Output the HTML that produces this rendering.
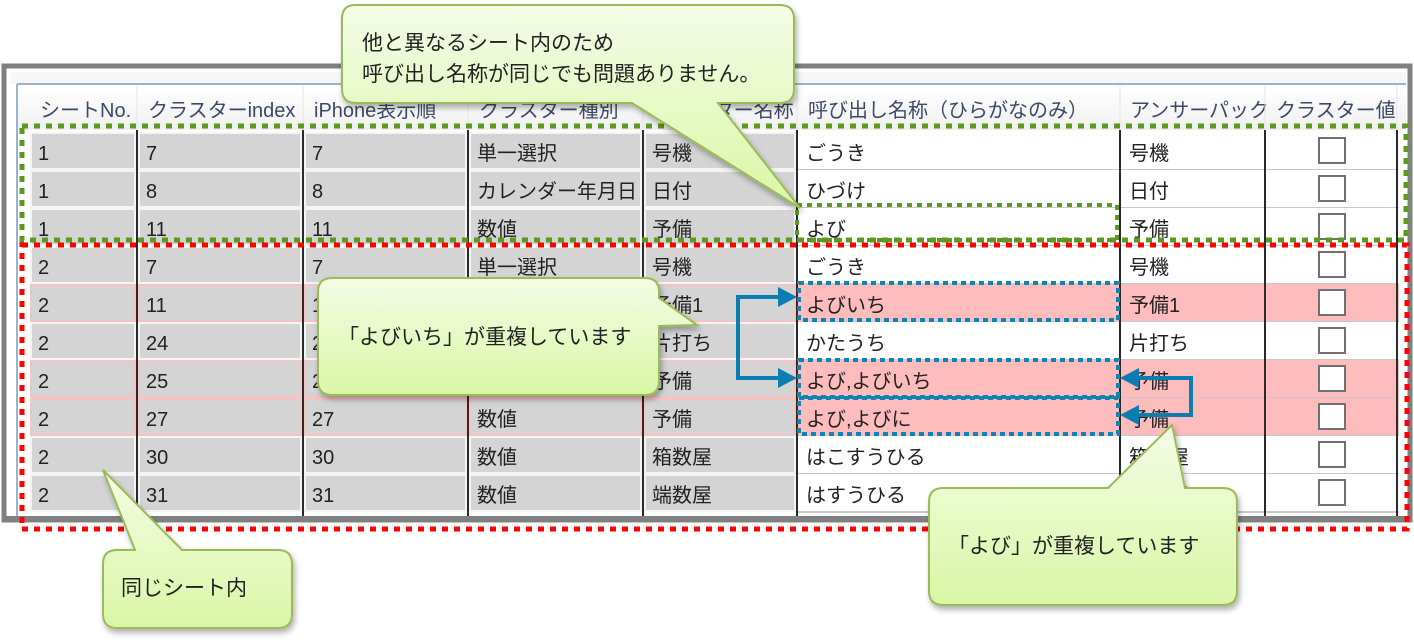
<!DOCTYPE html>
<html><head><meta charset="utf-8"><style>
body{margin:0;width:1414px;height:640px;background:#fff;overflow:hidden}
svg{display:block}
text{font-family:"Liberation Sans","Noto Sans CJK JP",sans-serif}
</style></head><body>
<svg width="1414" height="640" viewBox="0 0 1414 640" xmlns="http://www.w3.org/2000/svg">
<defs>
<linearGradient id="cg" x1="0" y1="0" x2="0" y2="1"><stop offset="0" stop-color="#f4fce6"/><stop offset="1" stop-color="#d9f7a6"/></linearGradient>
<linearGradient id="hg" x1="0" y1="0" x2="0" y2="1"><stop offset="0" stop-color="#ffffff"/><stop offset="1" stop-color="#f0f0f0"/></linearGradient>
<filter id="sh" x="-10%" y="-10%" width="130%" height="140%"><feDropShadow dx="2" dy="4" stdDeviation="3" flood-color="#000" flood-opacity="0.3"/></filter>
<g id="rw">
<rect x="30" y="0" width="767" height="38" fill="#f4f4f4"/>
<rect x="32" y="2" width="102" height="34" fill="#d4d4d4"/>
<rect x="140" y="2" width="160" height="34" fill="#d4d4d4"/>
<rect x="306" y="2" width="159" height="34" fill="#d4d4d4"/>
<rect x="471" y="2" width="169" height="34" fill="#d4d4d4"/>
<rect x="646" y="2" width="148" height="34" fill="#d4d4d4"/>
<rect x="797" y="0" width="602" height="38" fill="#fff"/>
<line x1="797" y1="38" x2="1399" y2="38" stroke="#c8c8c8" stroke-width="2"/>
<rect x="1319" y="6" width="26" height="25" fill="#fff" stroke="#707070" stroke-width="2"/>
</g>
<g id="rp">
<rect x="30" y="0" width="767" height="38" fill="#f4c4c4"/>
<rect x="32" y="2" width="102" height="34" fill="#d4d4d4"/>
<rect x="140" y="2" width="160" height="34" fill="#d4d4d4"/>
<rect x="306" y="2" width="159" height="34" fill="#d4d4d4"/>
<rect x="471" y="2" width="169" height="34" fill="#d4d4d4"/>
<rect x="646" y="2" width="148" height="34" fill="#d4d4d4"/>
<rect x="797" y="0" width="602" height="38" fill="#ffbcbc"/>
<line x1="797" y1="38" x2="1399" y2="38" stroke="#c8c8c8" stroke-width="2"/>
<rect x="1319" y="6" width="26" height="25" fill="#fff" stroke="#707070" stroke-width="2"/>
</g>
</defs>
<!-- frame -->
<rect x="4" y="66" width="1406" height="454" fill="#fff" stroke="#808080" stroke-width="5"/>
<rect x="10" y="72" width="1396" height="12" fill="#f7f7f7"/>
<line x1="17" y1="84" x2="1406" y2="84" stroke="#9db3cc" stroke-width="2"/>
<line x1="17" y1="84" x2="17" y2="517" stroke="#9db3cc" stroke-width="2"/>
<rect x="18" y="86" width="1388" height="44" fill="url(#hg)"/>
<g fill="#3c4a66" font-size="20">
<text x="40" y="117">シートNo.</text>
<text x="148" y="117">クラスターindex</text>
<text x="314" y="117">iPhone表示順</text>
<text x="479" y="117">クラスター種別</text>
<text x="654" y="117">クラスター名称</text>
<text x="808" y="117">呼び出し名称（ひらがなのみ）</text>
<text x="1130" y="117">アンサーパック</text>
<text x="1276" y="117">クラスター値</text>
</g>
<g stroke="#e4e4e4" stroke-width="1">
<line x1="137" y1="86" x2="137" y2="130"/><line x1="303" y1="86" x2="303" y2="130"/><line x1="468" y1="86" x2="468" y2="130"/><line x1="643" y1="86" x2="643" y2="130"/><line x1="797" y1="86" x2="797" y2="130"/><line x1="1120" y1="86" x2="1120" y2="130"/><line x1="1265" y1="86" x2="1265" y2="130"/><line x1="1397" y1="86" x2="1397" y2="130"/>
</g>
<use href="#rw" y="132"/>
<use href="#rw" y="170"/>
<use href="#rw" y="208"/>
<use href="#rw" y="246"/>
<use href="#rp" y="284"/>
<use href="#rw" y="322"/>
<use href="#rp" y="360"/>
<use href="#rp" y="398"/>
<use href="#rw" y="436"/>
<use href="#rw" y="474"/>
<g stroke="#2a2a2a" stroke-width="2">
<line x1="137" y1="130" x2="137" y2="518"/><line x1="303" y1="130" x2="303" y2="518"/><line x1="468" y1="130" x2="468" y2="518"/><line x1="643" y1="130" x2="643" y2="518"/><line x1="797" y1="130" x2="797" y2="518"/><line x1="1120" y1="130" x2="1120" y2="518"/><line x1="1265" y1="130" x2="1265" y2="518"/><line x1="1397" y1="130" x2="1397" y2="518"/>
</g>
<g font-size="20" fill="#222">
<text y="160"><tspan x="38">1</tspan><tspan x="146">7</tspan><tspan x="312">7</tspan><tspan x="477">単一選択</tspan><tspan x="652">号機</tspan><tspan x="806">ごうき</tspan><tspan x="1129">号機</tspan></text>
<text y="198"><tspan x="38">1</tspan><tspan x="146">8</tspan><tspan x="312">8</tspan><tspan x="477">カレンダー年月日</tspan><tspan x="652">日付</tspan><tspan x="806">ひづけ</tspan><tspan x="1129">日付</tspan></text>
<text y="236"><tspan x="38">1</tspan><tspan x="146">11</tspan><tspan x="312">11</tspan><tspan x="477">数値</tspan><tspan x="652">予備</tspan><tspan x="806">よび</tspan><tspan x="1129">予備</tspan></text>
<text y="274"><tspan x="38">2</tspan><tspan x="146">7</tspan><tspan x="312">7</tspan><tspan x="477">単一選択</tspan><tspan x="652">号機</tspan><tspan x="806">ごうき</tspan><tspan x="1129">号機</tspan></text>
<text y="312"><tspan x="38">2</tspan><tspan x="146">11</tspan><tspan x="312">11</tspan><tspan x="477">数値</tspan><tspan x="652">予備1</tspan><tspan x="806">よびいち</tspan><tspan x="1129">予備1</tspan></text>
<text y="350"><tspan x="38">2</tspan><tspan x="146">24</tspan><tspan x="312">24</tspan><tspan x="477">数値</tspan><tspan x="652">片打ち</tspan><tspan x="806">かたうち</tspan><tspan x="1129">片打ち</tspan></text>
<text y="388"><tspan x="38">2</tspan><tspan x="146">25</tspan><tspan x="312">25</tspan><tspan x="477">数値</tspan><tspan x="652">予備</tspan><tspan x="806">よび,よびいち</tspan><tspan x="1129">予備</tspan></text>
<text y="426"><tspan x="38">2</tspan><tspan x="146">27</tspan><tspan x="312">27</tspan><tspan x="477">数値</tspan><tspan x="652">予備</tspan><tspan x="806">よび,よびに</tspan><tspan x="1129">予備</tspan></text>
<text y="464"><tspan x="38">2</tspan><tspan x="146">30</tspan><tspan x="312">30</tspan><tspan x="477">数値</tspan><tspan x="652">箱数屋</tspan><tspan x="806">はこすうひる</tspan><tspan x="1129">箱数屋</tspan></text>
<text y="502"><tspan x="38">2</tspan><tspan x="146">31</tspan><tspan x="312">31</tspan><tspan x="477">数値</tspan><tspan x="652">端数屋</tspan><tspan x="806">はすうひる</tspan><tspan x="1129">端数屋</tspan></text>
</g>
<rect x="6" y="516" width="1402" height="5" fill="#808080"/>
<!-- dotted regions -->
<rect x="22" y="126" width="1384" height="114" fill="none" stroke="#5a9a1e" stroke-width="5" stroke-dasharray="6,6"/>
<rect x="22" y="245" width="1385" height="284" fill="none" stroke="#ff0000" stroke-width="5" stroke-dasharray="6,6"/>
<rect x="797" y="205" width="320" height="35" fill="none" stroke="#5a9a1e" stroke-width="4" stroke-dasharray="5,5"/>
<g fill="none" stroke="#0a85b5" stroke-width="4" stroke-dasharray="5,4">
<rect x="799" y="283" width="319" height="37"/>
<rect x="799" y="360" width="319" height="37"/>
<rect x="799" y="398" width="319" height="36"/>
</g>
<!-- arrows -->
<g stroke="#0a7eb0" stroke-width="4" fill="none">
<polyline points="782,297 738,297 738,378 782,378"/>
<polyline points="1138,378 1191,378 1191,415 1138,415"/>
</g>
<g fill="#0a7eb0">
<polygon points="797,297 778,287 778,307"/>
<polygon points="797,378 778,368 778,388"/>
<polygon points="1120,378 1139,368 1139,388"/>
<polygon points="1120,415 1139,405 1139,425"/>
</g>
<!-- callouts -->
<g filter="url(#sh)" fill="url(#cg)" stroke="#9bbb59" stroke-width="2">
<path d="M355,5 H780 Q794,5 794,19 V89 Q794,103 780,103 H718 L800,208 L632,103 H356 Q342,103 342,89 V19 Q342,5 355,5 Z"/>
<path d="M332,278 H645 Q659,278 659,292 V298 L697,325 L659,326 V381 Q659,395 645,395 H332 Q318,395 318,381 V292 Q318,278 332,278 Z"/>
<path d="M943,488 H1108 L1172,425 L1185,488 H1223 Q1237,488 1237,502 V591 Q1237,605 1223,605 H943 Q929,605 929,591 V502 Q929,488 943,488 Z"/>
<path d="M117,550 H135 L103,470 L182,550 H278 Q292,550 292,564 V614 Q292,628 278,628 H117 Q103,628 103,614 V564 Q103,550 117,550 Z"/>
</g>
<g fill="#222" font-size="21">
<text x="362" y="50">他と異なるシート内のため</text>
<text x="362" y="81">呼び出し名称が同じでも問題ありません。</text>
<text x="338" y="344">「よびいち」が重複しています</text>
<text x="948" y="553">「よび」が重複しています</text>
<text x="121" y="595">同じシート内</text>
</g>
</svg>
</body></html>
